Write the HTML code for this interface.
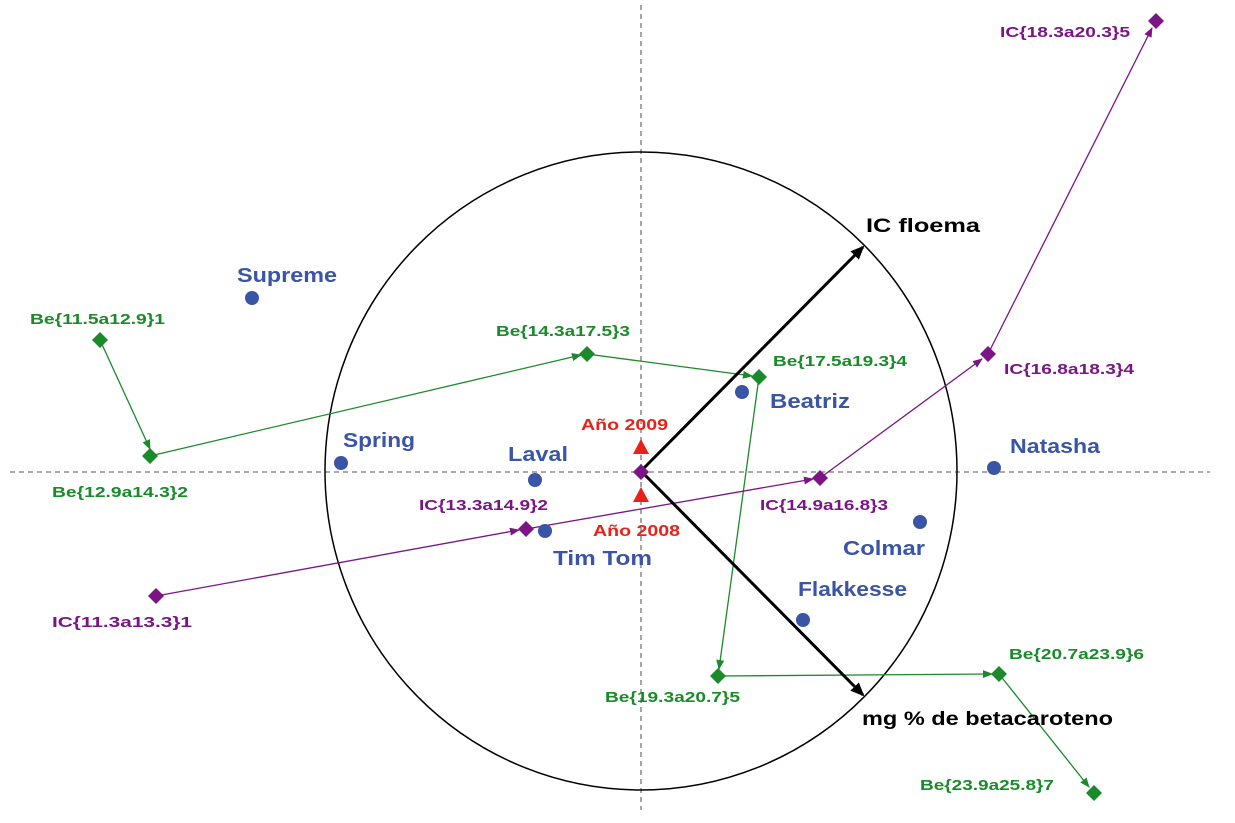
<!DOCTYPE html>
<html><head><meta charset="utf-8"><style>
html,body{margin:0;padding:0;background:#fff;}
svg text{font-family:"Liberation Sans",Arial,sans-serif;font-weight:bold;}
</style></head><body>
<svg width="1235" height="818" viewBox="0 0 1235 818" xmlns="http://www.w3.org/2000/svg">
<defs>
<marker id="ag" markerWidth="10" markerHeight="8" refX="9" refY="4" orient="auto" markerUnits="userSpaceOnUse"><path d="M0,0 L10,4 L0,8 z" fill="#1a8a2a"/></marker>
<marker id="ap" markerWidth="10" markerHeight="8" refX="9" refY="4" orient="auto" markerUnits="userSpaceOnUse"><path d="M0,0 L10,4 L0,8 z" fill="#7b1585"/></marker>
<marker id="ab" markerWidth="14" markerHeight="12" refX="12" refY="6" orient="auto" markerUnits="userSpaceOnUse"><path d="M0,0 L14,6 L0,12 z" fill="#000"/></marker>
</defs>
<line x1="10" y1="472" x2="1210" y2="472" stroke="#777" stroke-width="1.3" stroke-dasharray="5,4"/>
<line x1="641" y1="5" x2="641" y2="810" stroke="#777" stroke-width="1.3" stroke-dasharray="5,4"/>
<ellipse cx="641" cy="471" rx="316" ry="319" fill="none" stroke="#000" stroke-width="1.5"/>
<g stroke="#1a8a2a" stroke-width="1.3" fill="none">
<line x1="100" y1="340" x2="150" y2="449" marker-end="url(#ag)"/>
<line x1="150" y1="456" x2="581" y2="355" marker-end="url(#ag)"/>
<line x1="587" y1="354" x2="752" y2="376" marker-end="url(#ag)"/>
<line x1="759" y1="377" x2="719" y2="669" marker-end="url(#ag)"/>
<line x1="718" y1="676" x2="992" y2="674" marker-end="url(#ag)"/>
<line x1="999" y1="674" x2="1089" y2="787" marker-end="url(#ag)"/>
</g>
<g stroke="#7b1585" stroke-width="1.3" fill="none">
<line x1="156" y1="596" x2="519" y2="530" marker-end="url(#ap)"/>
<line x1="526" y1="529" x2="813" y2="479" marker-end="url(#ap)"/>
<line x1="820" y1="478" x2="982" y2="359" marker-end="url(#ap)"/>
<line x1="988" y1="354" x2="1152" y2="28" marker-end="url(#ap)"/>
</g>
<g stroke="#000" stroke-width="3" fill="none">
<line x1="641" y1="471" x2="863" y2="247" marker-end="url(#ab)"/>
<line x1="641" y1="471" x2="863" y2="695" marker-end="url(#ab)"/>
</g>
<g fill="#1a8a2a">
<path d="M100,332 l8,8 l-8,8 l-8,-8z"/>
<path d="M150,448 l8,8 l-8,8 l-8,-8z"/>
<path d="M587,346 l8,8 l-8,8 l-8,-8z"/>
<path d="M759,369 l8,8 l-8,8 l-8,-8z"/>
<path d="M718,668 l8,8 l-8,8 l-8,-8z"/>
<path d="M999,666 l8,8 l-8,8 l-8,-8z"/>
<path d="M1094,785 l8,8 l-8,8 l-8,-8z"/>
</g>
<g fill="#7b1585">
<path d="M156,588 l8,8 l-8,8 l-8,-8z"/>
<path d="M526,521 l8,8 l-8,8 l-8,-8z"/>
<path d="M820,470 l8,8 l-8,8 l-8,-8z"/>
<path d="M988,346 l8,8 l-8,8 l-8,-8z"/>
<path d="M1156,13 l8,8 l-8,8 l-8,-8z"/>
<path d="M641,464 l8,8 l-8,8 l-8,-8z"/>
</g>
<g fill="#e8221a">
<path d="M641,439 l8,15 l-16,0z"/>
<path d="M641,487 l8,15 l-16,0z"/>
</g>
<g fill="#3a55a6">
<circle cx="252" cy="298" r="7"/><circle cx="341" cy="463" r="7"/>
<circle cx="535" cy="480" r="7"/><circle cx="545" cy="531" r="7"/>
<circle cx="742" cy="392" r="7"/><circle cx="994" cy="468" r="7"/>
<circle cx="920" cy="522" r="7"/><circle cx="803" cy="620" r="7"/>
</g>
<g fill="#3a55a6" font-size="20" lengthAdjust="spacingAndGlyphs">
<text x="237" y="282" textLength="100" lengthAdjust="spacingAndGlyphs">Supreme</text>
<text x="343" y="447" textLength="72" lengthAdjust="spacingAndGlyphs">Spring</text>
<text x="508" y="461" textLength="60" lengthAdjust="spacingAndGlyphs">Laval</text>
<text x="553" y="565" textLength="99" lengthAdjust="spacingAndGlyphs">Tim Tom</text>
<text x="770" y="408" textLength="80" lengthAdjust="spacingAndGlyphs">Beatriz</text>
<text x="1010" y="453" textLength="90" lengthAdjust="spacingAndGlyphs">Natasha</text>
<text x="843" y="555" textLength="82" lengthAdjust="spacingAndGlyphs">Colmar</text>
<text x="798" y="596" textLength="109" lengthAdjust="spacingAndGlyphs">Flakkesse</text>
</g>
<g fill="#000" font-size="19">
<text x="866" y="232" textLength="114" lengthAdjust="spacingAndGlyphs">IC floema</text>
<text x="862" y="725" textLength="251" lengthAdjust="spacingAndGlyphs">mg % de betacaroteno</text>
</g>
<g fill="#e8221a" font-size="16">
<text x="581" y="430" textLength="87" lengthAdjust="spacingAndGlyphs">Año 2009</text>
<text x="593" y="536" textLength="87" lengthAdjust="spacingAndGlyphs">Año 2008</text>
</g>
<g fill="#1a8a2a" font-size="15">
<text x="30" y="324" textLength="135" lengthAdjust="spacingAndGlyphs">Be{11.5a12.9}1</text>
<text x="52" y="497" textLength="136" lengthAdjust="spacingAndGlyphs">Be{12.9a14.3}2</text>
<text x="496" y="336" textLength="134" lengthAdjust="spacingAndGlyphs">Be{14.3a17.5}3</text>
<text x="773" y="366" textLength="134" lengthAdjust="spacingAndGlyphs">Be{17.5a19.3}4</text>
<text x="605" y="702" textLength="135" lengthAdjust="spacingAndGlyphs">Be{19.3a20.7}5</text>
<text x="1009" y="659" textLength="135" lengthAdjust="spacingAndGlyphs">Be{20.7a23.9}6</text>
<text x="920" y="790" textLength="134" lengthAdjust="spacingAndGlyphs">Be{23.9a25.8}7</text>
</g>
<g fill="#7b1585" font-size="15">
<text x="52" y="627" textLength="140" lengthAdjust="spacingAndGlyphs">IC{11.3a13.3}1</text>
<text x="419" y="510" textLength="129" lengthAdjust="spacingAndGlyphs">IC{13.3a14.9}2</text>
<text x="760" y="510" textLength="128" lengthAdjust="spacingAndGlyphs">IC{14.9a16.8}3</text>
<text x="1004" y="374" textLength="130" lengthAdjust="spacingAndGlyphs">IC{16.8a18.3}4</text>
<text x="1000" y="37" textLength="130" lengthAdjust="spacingAndGlyphs">IC{18.3a20.3}5</text>
</g>
</svg>
</body></html>
